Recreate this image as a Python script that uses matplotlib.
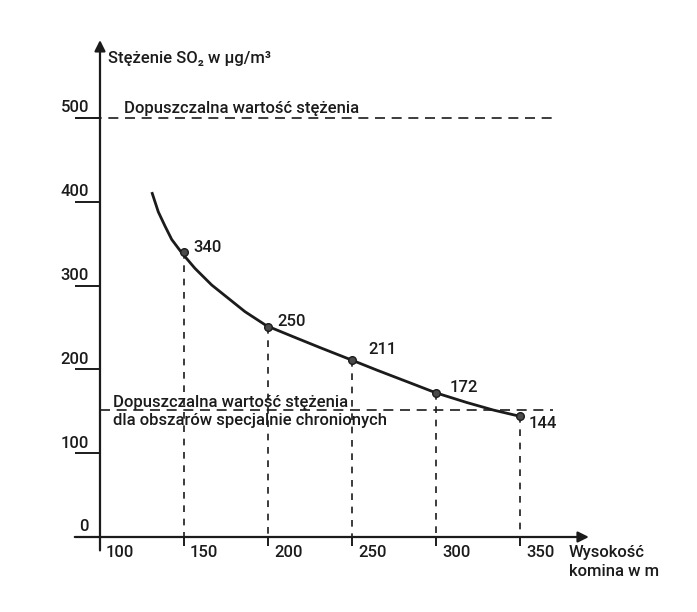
import numpy as np
import matplotlib
matplotlib.use("Agg")
import matplotlib.pyplot as plt

plt.rcParams['font.family'] = ['Roboto', 'DejaVu Sans']
plt.rcParams['font.weight'] = 500

# wysokosc komina [m] i stezenie SO2 [ug/m3]
heights = [150, 200, 250, 300, 350]
conc = [340, 250, 211, 172, 144]

# krzywa
curve_x = [131.1, 134.7, 138.7, 142.7, 148.6, 156.5, 166.5, 176.4, 186.3, 199.2,
           215, 231, 250, 265, 284.5, 300, 318.3, 334.1, 350]
curve_y = [410, 388, 371, 355, 339.3, 320.6, 300.7, 284.8, 268.9, 252,
           239, 226, 211, 199, 184, 172, 160.5, 151.5, 144]

limit_general = 500
limit_protected = 152

x_ticks = [100, 150, 200, 250, 300, 350]
y_ticks = [0, 100, 200, 300, 400, 500]

label_offsets = [(7, 3), (7, 4), (12, 8), (10, 4), (6, -5)]

ink = "#1b1b1b"
fs = 12

fig = plt.figure(figsize=(6.97, 6.12), dpi=100)
ax = fig.add_axes([0, 0, 1, 1])
ax.set_xlim(40.48, 455.36)
ax.set_ylim(-89.5, 640.8)
ax.axis("off")

# osie
ax.annotate("", xy=(100, 593), xytext=(100, -16),
            arrowprops=dict(arrowstyle="-|>", lw=1.6, color=ink, mutation_scale=16, shrinkA=0, shrinkB=0))
ax.annotate("", xy=(391, 0), xytext=(85, 0),
            arrowprops=dict(arrowstyle="-|>", lw=1.6, color=ink, mutation_scale=16, shrinkA=0, shrinkB=0))

for yt in y_ticks[1:]:
    ax.plot([85, 100], [yt, yt], color=ink, lw=1.4, solid_capstyle="butt")
for yt in y_ticks:
    ax.text(89 / 1.68 + 40.48, yt + 12, str(yt), ha="right", va="center", fontsize=fs, color=ink)

for xt in x_ticks[1:]:
    ax.plot([xt, xt], [0, -11], color=ink, lw=1.4, solid_capstyle="butt")
for xt in x_ticks:
    ax.text(xt + 12, -19, str(xt), ha="center", va="center", fontsize=fs, color=ink)

# linie dopuszczalnych wartosci
ax.plot([85, 369.6], [limit_general, limit_general], color=ink, lw=1.2, ls=(0, (6, 4)))
ax.plot([100, 369.6], [limit_protected, limit_protected], color=ink, lw=1.2, ls=(0, (6, 4)))

ax.text(114.5, 505.5, "Dopuszczalna wartość stężenia", fontsize=fs, color=ink, va="baseline")
ax.text(107.5, 155, "Dopuszczalna wartość stężenia", fontsize=fs, color=ink, va="baseline")
ax.text(107.5, 133.5, "dla obszarów specjalnie chronionych", fontsize=fs, color=ink, va="baseline")

# krzywa i punkty
ax.plot(curve_x, curve_y, color=ink, lw=2, solid_joinstyle="round")
for h, c, off in zip(heights, conc, label_offsets):
    ax.plot([h, h], [c, 0], color=ink, lw=1.2, ls=(0, (4, 4)))
    ax.annotate(str(c), (h, c), xytext=off, textcoords="offset points",
                fontsize=fs, color=ink, va="center")
ax.plot(heights, conc, "o", color="#4a4a4a", mec=ink, ms=5.5, zorder=5)

# opisy osi
ax.text(104.5, 571, "Stężenie SO₂ w µg/m³", fontsize=fs, color=ink, va="center")
ax.text(379, -30, "Wysokość\nkomina w m", fontsize=fs, color=ink, va="center", linespacing=1.3)

fig.savefig("out.png", dpi=100)
